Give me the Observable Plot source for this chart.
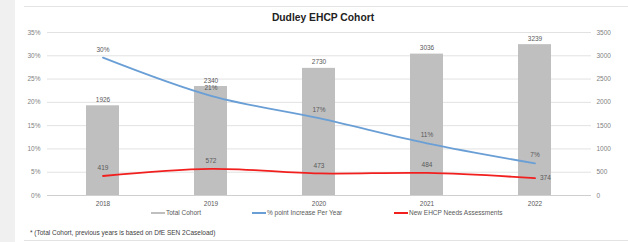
<!DOCTYPE html>
<html><head><meta charset="utf-8">
<script src="https://cdn.jsdelivr.net/npm/d3@7"></script>
<script src="https://cdn.jsdelivr.net/npm/@observablehq/plot@0.6"></script>
<style>
body{margin:0;background:#fff;font-family:"Liberation Sans",Arial,sans-serif;}
#wrap{position:relative;width:628px;height:242px;overflow:hidden;background:#fff;}
#strip{position:absolute;left:0;top:0;width:15px;height:242px;background:#f0f0f0;}
#topline{position:absolute;left:24px;top:6px;width:604px;height:1px;background:#e3e3e3;}
#botline{position:absolute;left:24px;top:240px;width:604px;height:1px;background:#e3e3e3;}
#title{position:absolute;left:0;top:12px;width:646px;text-align:center;font-weight:bold;font-size:10.3px;color:#222;}
#chart{position:absolute;left:0;top:26px;}
#legend{position:absolute;top:209px;left:0;width:628px;font-size:6.5px;color:#595959;}
.li{position:absolute;display:flex;align-items:center;}
.sw{width:14px;height:2px;margin-right:1px;}
#foot{position:absolute;left:30px;top:229px;font-size:6.5px;color:#404040;}
</style></head>
<body>
<div id="wrap">
<div id="strip"></div><div id="topline"></div><div id="botline"></div>
<div id="title">Dudley EHCP Cohort</div>
<div id="chart"></div>
<div id="legend"></div>
<div id="foot">* (Total Cohort, previous years is based on DfE SEN 2Caseload)</div>
</div>
<script>
const years = ["2018", "2019", "2020", "2021", "2022"];
const totalCohort = [1926, 2340, 2730, 3036, 3239];
const pctIncrease = [29.6, 21.4, 16.6, 11.2, 6.9];
const pctLabels = ["30%", "21%", "17%", "11%", "7%"];
const newAssessments = [419, 572, 473, 484, 374];
const leftTicks = [0, 5, 10, 15, 20, 25, 30, 35];
const rightTicks = [0, 500, 1000, 1500, 2000, 2500, 3000, 3500];
const seriesNames = ["Total Cohort", "% point Increase Per Year", "New EHCP Needs Assessments"];

const colGray = "#bfbfbf", colBlue = "#6a9fd6", colRed = "#f21f1f";
const k = 35 / 3500; // right-axis count -> left-axis percent
const rows = years.map((y, i) => ({
  year: y, total: totalCohort[i], pct: pctIncrease[i], pctLabel: pctLabels[i], na: newAssessments[i]
}));

const chart = Plot.plot({
  width: 628, height: 184,
  marginTop: 6, marginBottom: 15, marginLeft: 47, marginRight: 37,
  style: {fontFamily: "Liberation Sans, Arial, sans-serif", fontSize: "6.5px", color: "#595959", background: "transparent"},
  x: {domain: years, paddingInner: 0.69, paddingOuter: 0.345, label: null},
  y: {domain: [0, 35], label: null},
  marks: [
    Plot.ruleY(leftTicks, {stroke: "#e2e2e2", strokeWidth: 1}),
    Plot.ruleY([0], {stroke: "#cfcfcf"}),
    Plot.barY(rows, {x: "year", y: d => d.total * k, fill: colGray}),
    Plot.axisX({tickSize: 0, tickPadding: 6, fill: "#595959"}),
    Plot.axisY(leftTicks, {anchor: "left", tickSize: 0, tickPadding: 7, tickFormat: d => d + "%", fill: "#7f7f7f"}),
    Plot.axisY(rightTicks.map(v => v * k), {anchor: "right", tickSize: 0, tickPadding: 5, tickFormat: v => String(Math.round(v / k)), fill: "#7f7f7f"}),
    Plot.line(rows, {x: "year", y: "pct", stroke: colBlue, strokeWidth: 1.8, curve: "catmull-rom"}),
    Plot.line(rows, {x: "year", y: d => d.na * k, stroke: colRed, strokeWidth: 1.8, curve: "catmull-rom"}),
    Plot.text(rows, {x: "year", y: d => d.total * k, text: d => String(d.total), dy: -6, fill: "#595959"}),
    Plot.text(rows, {x: "year", y: "pct", text: "pctLabel", dy: -8, fill: "#595959"}),
    Plot.text(rows.slice(0, 4), {x: "year", y: d => d.na * k, text: d => String(d.na), dy: -8, fill: "#595959"}),
    Plot.text(rows.slice(4), {x: "year", y: d => d.na * k, text: d => String(d.na), dx: 5, dy: 0, textAnchor: "start", fill: "#595959"})
  ]
});
document.getElementById("chart").appendChild(chart);

const legend = document.getElementById("legend");
const legendPos = [151, 252, 394];
const legendCol = [colGray, colBlue, colRed];
seriesNames.forEach((n, i) => {
  const d = document.createElement("div");
  d.className = "li";
  d.style.left = legendPos[i] + "px";
  d.innerHTML = `<span class="sw" style="background:${legendCol[i]}"></span><span>${n}</span>`;
  legend.appendChild(d);
});
</script>
</body></html>
